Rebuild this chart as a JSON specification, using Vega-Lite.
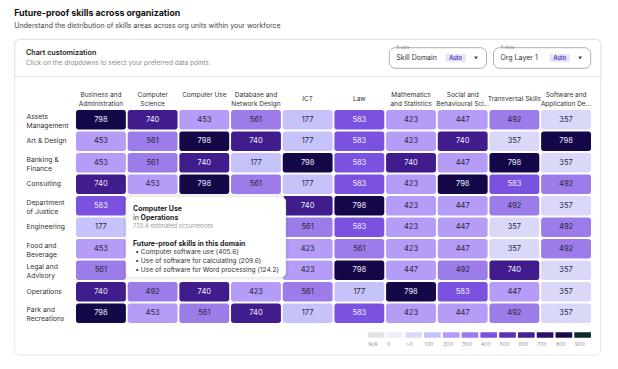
{
  "$schema": "https://vega.github.io/schema/vega-lite/v6.json",
  "width": 515,
  "height": 213,
  "autosize": {"type": "none"},
  "padding": {"left": 76, "top": 110, "right": 27, "bottom": 46},
  "background": "white",
  "config": {"font": "Inter", "view": {"stroke": null}},
  "title": {
    "text": "Future-proof skills across organization",
    "subtitle": "Understand the distribution of skills areas across org units within your workforce",
    "anchor": "start",
    "frame": "bounds",
    "fontSize": 8.8,
    "fontWeight": 700,
    "color": "#111111",
    "subtitleFontSize": 7,
    "subtitleColor": "#444444",
    "subtitlePadding": 4.5,
    "offset": 9.5
  },
  "layer": [
    {
      "data": {"values": [{"panel": "card"}]},
      "mark": {"type": "rect", "fill": "white", "stroke": "#e3e6e8", "strokeWidth": 1, "cornerRadius": 5},
      "encoding": {
        "x": {"field": "panel", "type": "nominal", "axis": null, "scale": {"domain": ["card"], "range": [-61.3, 524.7], "paddingInner": 0, "paddingOuter": 0}},
        "y": {"field": "panel", "type": "nominal", "axis": null, "scale": {"domain": ["card"], "range": [-70.7, 245], "paddingInner": 0, "paddingOuter": 0}}
      }
    },
    {
      "data": {"values": [{"panel": "header", "heading": "Chart customization", "hint": "Click on the dropdowns to select your preferred data points."}]},
      "encoding": {
        "x": {"field": "panel", "type": "nominal", "axis": null, "scale": {"domain": ["header"], "range": [-61.3, 524.7], "paddingInner": 0, "paddingOuter": 0}},
        "y": {"field": "panel", "type": "nominal", "axis": null, "scale": {"domain": ["header"], "range": [-70.7, -33.5], "paddingInner": 0, "paddingOuter": 0}}
      },
      "layer": [
        {"mark": {"type": "rect", "fill": null, "fillOpacity": 0, "stroke": "#e3e6e8", "strokeWidth": 1, "cornerRadiusTopLeft": 5, "cornerRadiusTopRight": 5}},
        {
          "mark": {"type": "text", "align": "left", "baseline": "middle", "dx": 11.3, "dy": 13.4, "fontSize": 7.2, "fontWeight": 600, "color": "#222222"},
          "encoding": {
            "x": {"field": "panel", "type": "nominal", "bandPosition": 0},
            "y": {"field": "panel", "type": "nominal", "bandPosition": 0},
            "text": {"field": "heading"}
          }
        },
        {
          "mark": {"type": "text", "align": "left", "baseline": "middle", "dx": 11.3, "dy": 23.4, "fontSize": 6.5, "color": "#8a8a8a"},
          "encoding": {
            "x": {"field": "panel", "type": "nominal", "bandPosition": 0},
            "y": {"field": "panel", "type": "nominal", "bandPosition": 0},
            "text": {"field": "hint"}
          }
        }
      ]
    },
    {
      "data": {"values": [
        {"panel": "controls", "axisName": "X-axis", "choice": "Skill Domain", "mode": "Auto"},
        {"panel": "controls", "axisName": "Y-Axis", "choice": "Org Layer 1", "mode": "Auto"}
      ]},
      "encoding": {
        "x": {"field": "axisName", "type": "nominal", "axis": null, "scale": {"domain": ["X-axis", "Y-Axis"], "range": [313.3, 514.7], "paddingInner": 0.067, "paddingOuter": 0}},
        "y": {"field": "panel", "type": "nominal", "axis": null, "scale": {"domain": ["controls"], "range": [-62.3, -41.7], "paddingInner": 0, "paddingOuter": 0}}
      },
      "layer": [
        {"mark": {"type": "rect", "fill": "white", "stroke": "#9a9a9a", "strokeWidth": 0.8, "cornerRadius": 6}},
        {
          "mark": {"type": "text", "align": "left", "baseline": "middle", "dx": 7, "fontSize": 7, "color": "#333333"},
          "encoding": {"x": {"field": "axisName", "type": "nominal", "bandPosition": 0}, "text": {"field": "choice"}}
        },
        {
          "mark": {"type": "point", "shape": "M-1,-0.4L1,-0.4L1,0.4L-1,0.4Z", "size": 400, "filled": true, "fill": "#e7e2fb", "opacity": 1, "xOffset": -31},
          "encoding": {"x": {"field": "axisName", "type": "nominal", "bandPosition": 1}}
        },
        {
          "mark": {"type": "text", "align": "center", "baseline": "middle", "dx": -31, "fontSize": 5.5, "fontWeight": 600, "color": "#4a32b0"},
          "encoding": {"x": {"field": "axisName", "type": "nominal", "bandPosition": 1}, "text": {"field": "mode"}}
        },
        {
          "mark": {"type": "point", "shape": "triangle-down", "size": 14, "filled": true, "fill": "#444444", "opacity": 1, "xOffset": -10.5},
          "encoding": {"x": {"field": "axisName", "type": "nominal", "bandPosition": 1}}
        },
        {
          "mark": {"type": "text", "align": "left", "baseline": "middle", "dx": 7, "dy": 0.6, "fontSize": 4.5, "color": "#888888"},
          "encoding": {"x": {"field": "axisName", "type": "nominal", "bandPosition": 0}, "y": {"field": "panel", "type": "nominal", "bandPosition": 0}, "text": {"field": "axisName"}}
        }
      ]
    },
    {
      "data": {"values": [
        {"unit": "Assets Management", "skill": "Business and Administration", "value": 798},
        {"unit": "Assets Management", "skill": "Computer Science", "value": 740},
        {"unit": "Assets Management", "skill": "Computer Use", "value": 453},
        {"unit": "Assets Management", "skill": "Database and Network Design", "value": 561},
        {"unit": "Assets Management", "skill": "ICT", "value": 177},
        {"unit": "Assets Management", "skill": "Law", "value": 583},
        {"unit": "Assets Management", "skill": "Mathematics and Statistics", "value": 423},
        {"unit": "Assets Management", "skill": "Social and Behavioural Sciences", "value": 447},
        {"unit": "Assets Management", "skill": "Transversal Skills", "value": 492},
        {"unit": "Assets Management", "skill": "Software and Application Development", "value": 357},
        {"unit": "Art & Design", "skill": "Business and Administration", "value": 453},
        {"unit": "Art & Design", "skill": "Computer Science", "value": 561},
        {"unit": "Art & Design", "skill": "Computer Use", "value": 798},
        {"unit": "Art & Design", "skill": "Database and Network Design", "value": 740},
        {"unit": "Art & Design", "skill": "ICT", "value": 177},
        {"unit": "Art & Design", "skill": "Law", "value": 583},
        {"unit": "Art & Design", "skill": "Mathematics and Statistics", "value": 423},
        {"unit": "Art & Design", "skill": "Social and Behavioural Sciences", "value": 740},
        {"unit": "Art & Design", "skill": "Transversal Skills", "value": 357},
        {"unit": "Art & Design", "skill": "Software and Application Development", "value": 798},
        {"unit": "Banking & Finance", "skill": "Business and Administration", "value": 453},
        {"unit": "Banking & Finance", "skill": "Computer Science", "value": 561},
        {"unit": "Banking & Finance", "skill": "Computer Use", "value": 740},
        {"unit": "Banking & Finance", "skill": "Database and Network Design", "value": 177},
        {"unit": "Banking & Finance", "skill": "ICT", "value": 798},
        {"unit": "Banking & Finance", "skill": "Law", "value": 583},
        {"unit": "Banking & Finance", "skill": "Mathematics and Statistics", "value": 740},
        {"unit": "Banking & Finance", "skill": "Social and Behavioural Sciences", "value": 447},
        {"unit": "Banking & Finance", "skill": "Transversal Skills", "value": 798},
        {"unit": "Banking & Finance", "skill": "Software and Application Development", "value": 357},
        {"unit": "Consulting", "skill": "Business and Administration", "value": 740},
        {"unit": "Consulting", "skill": "Computer Science", "value": 453},
        {"unit": "Consulting", "skill": "Computer Use", "value": 798},
        {"unit": "Consulting", "skill": "Database and Network Design", "value": 561},
        {"unit": "Consulting", "skill": "ICT", "value": 177},
        {"unit": "Consulting", "skill": "Law", "value": 583},
        {"unit": "Consulting", "skill": "Mathematics and Statistics", "value": 423},
        {"unit": "Consulting", "skill": "Social and Behavioural Sciences", "value": 798},
        {"unit": "Consulting", "skill": "Transversal Skills", "value": 583},
        {"unit": "Consulting", "skill": "Software and Application Development", "value": 492},
        {"unit": "Department of Justice", "skill": "Business and Administration", "value": 583},
        {"unit": "Department of Justice", "skill": "ICT", "value": 740},
        {"unit": "Department of Justice", "skill": "Law", "value": 798},
        {"unit": "Department of Justice", "skill": "Mathematics and Statistics", "value": 423},
        {"unit": "Department of Justice", "skill": "Social and Behavioural Sciences", "value": 447},
        {"unit": "Department of Justice", "skill": "Transversal Skills", "value": 492},
        {"unit": "Department of Justice", "skill": "Software and Application Development", "value": 357},
        {"unit": "Engineering", "skill": "Business and Administration", "value": 177},
        {"unit": "Engineering", "skill": "ICT", "value": 561},
        {"unit": "Engineering", "skill": "Law", "value": 583},
        {"unit": "Engineering", "skill": "Mathematics and Statistics", "value": 423},
        {"unit": "Engineering", "skill": "Social and Behavioural Sciences", "value": 447},
        {"unit": "Engineering", "skill": "Transversal Skills", "value": 357},
        {"unit": "Engineering", "skill": "Software and Application Development", "value": 492},
        {"unit": "Food and Beverage", "skill": "Business and Administration", "value": 453},
        {"unit": "Food and Beverage", "skill": "ICT", "value": 423},
        {"unit": "Food and Beverage", "skill": "Law", "value": 561},
        {"unit": "Food and Beverage", "skill": "Mathematics and Statistics", "value": 423},
        {"unit": "Food and Beverage", "skill": "Social and Behavioural Sciences", "value": 447},
        {"unit": "Food and Beverage", "skill": "Transversal Skills", "value": 357},
        {"unit": "Food and Beverage", "skill": "Software and Application Development", "value": 492},
        {"unit": "Legal and Advisory", "skill": "Business and Administration", "value": 561},
        {"unit": "Legal and Advisory", "skill": "ICT", "value": 423},
        {"unit": "Legal and Advisory", "skill": "Law", "value": 798},
        {"unit": "Legal and Advisory", "skill": "Mathematics and Statistics", "value": 447},
        {"unit": "Legal and Advisory", "skill": "Social and Behavioural Sciences", "value": 492},
        {"unit": "Legal and Advisory", "skill": "Transversal Skills", "value": 740},
        {"unit": "Legal and Advisory", "skill": "Software and Application Development", "value": 357},
        {"unit": "Operations", "skill": "Business and Administration", "value": 740},
        {"unit": "Operations", "skill": "Computer Science", "value": 492},
        {"unit": "Operations", "skill": "Computer Use", "value": 740},
        {"unit": "Operations", "skill": "Database and Network Design", "value": 423},
        {"unit": "Operations", "skill": "ICT", "value": 561},
        {"unit": "Operations", "skill": "Law", "value": 177},
        {"unit": "Operations", "skill": "Mathematics and Statistics", "value": 798},
        {"unit": "Operations", "skill": "Social and Behavioural Sciences", "value": 583},
        {"unit": "Operations", "skill": "Transversal Skills", "value": 447},
        {"unit": "Operations", "skill": "Software and Application Development", "value": 357},
        {"unit": "Park and Recreations", "skill": "Business and Administration", "value": 798},
        {"unit": "Park and Recreations", "skill": "Computer Science", "value": 453},
        {"unit": "Park and Recreations", "skill": "Computer Use", "value": 561},
        {"unit": "Park and Recreations", "skill": "Database and Network Design", "value": 740},
        {"unit": "Park and Recreations", "skill": "ICT", "value": 177},
        {"unit": "Park and Recreations", "skill": "Law", "value": 583},
        {"unit": "Park and Recreations", "skill": "Mathematics and Statistics", "value": 423},
        {"unit": "Park and Recreations", "skill": "Social and Behavioural Sciences", "value": 447},
        {"unit": "Park and Recreations", "skill": "Transversal Skills", "value": 492},
        {"unit": "Park and Recreations", "skill": "Software and Application Development", "value": 357}
      ]},
      "encoding": {
        "x": {
          "field": "skill", "type": "nominal",
          "sort": ["Business and Administration", "Computer Science", "Computer Use", "Database and Network Design", "ICT", "Law", "Mathematics and Statistics", "Social and Behavioural Sciences", "Transversal Skills", "Software and Application Development"],
          "scale": {"paddingInner": 0.035, "paddingOuter": 0},
          "axis": {
            "orient": "top", "title": null, "domain": false, "ticks": false, "tickSize": 0,
            "labelAngle": 0, "labelAlign": "center",
            "labelBaseline": {"condition": {"test": "indexof(['ICT','Law','Transversal Skills'], datum.value) >= 0", "value": "middle"}, "value": "line-bottom"},
            "labelPadding": 11.3,
            "labelFontSize": 6.5, "labelColor": "#333333", "labelLineHeight": 8.7, "labelLimit": 0,
            "labelExpr": "{'Business and Administration':['Business and','Administration'],'Computer Science':['Computer','Science'],'Database and Network Design':['Database and','Network Design'],'Mathematics and Statistics':['Mathematics','and Statistics'],'Social and Behavioural Sciences':['Social and','Behavioural Sci...'],'Software and Application Development':['Software and','Application De...']}[datum.label] || datum.label"
          }
        },
        "y": {
          "field": "unit", "type": "nominal",
          "sort": ["Assets Management", "Art & Design", "Banking & Finance", "Consulting", "Department of Justice", "Engineering", "Food and Beverage", "Legal and Advisory", "Operations", "Park and Recreations"],
          "scale": {"paddingInner": 0.09, "paddingOuter": 0},
          "axis": {
            "title": null, "domain": false, "ticks": false, "tickSize": 0,
            "labelAlign": "left",
            "labelBaseline": {"condition": {"test": "indexof(['Art & Design','Consulting','Engineering','Operations'], datum.value) >= 0", "value": "middle"}, "value": "bottom"},
            "labelPadding": 50,
            "labelFontSize": 6.8, "labelColor": "#333333", "labelLineHeight": 9,
            "labelExpr": "{'Assets Management':['Assets','Management'],'Banking & Finance':['Banking &','Finance'],'Department of Justice':['Department','of Justice'],'Food and Beverage':['Food and','Beverage'],'Legal and Advisory':['Legal and','Advisory'],'Park and Recreations':['Park and','Recreations']}[datum.label] || datum.label"
          }
        }
      },
      "layer": [
        {
          "mark": {"type": "rect", "cornerRadius": 2.5},
          "encoding": {
            "color": {
              "field": "value", "type": "quantitative", "legend": null,
              "scale": {"type": "threshold", "domain": [200, 400, 480, 570, 700, 780], "range": ["#c5c3fa", "#d9d8f9", "#b49cf7", "#9c7ce9", "#7b52df", "#401c8c", "#150849"]}
            }
          }
        },
        {
          "mark": {"type": "text", "fontSize": 7.5, "baseline": "middle"},
          "encoding": {
            "text": {"field": "value", "type": "quantitative"},
            "color": {"condition": {"test": "datum.value > 570", "value": "#f1eeff"}, "value": "#2b2640"}
          }
        }
      ]
    },
    {
      "data": {"values": [
        {"panel": "legend", "bin": "N/A"}, {"panel": "legend", "bin": "0"}, {"panel": "legend", "bin": ">0"},
        {"panel": "legend", "bin": "100"}, {"panel": "legend", "bin": "200"}, {"panel": "legend", "bin": "300"},
        {"panel": "legend", "bin": "400"}, {"panel": "legend", "bin": "500"}, {"panel": "legend", "bin": "600"},
        {"panel": "legend", "bin": "700"}, {"panel": "legend", "bin": "800"}, {"panel": "legend", "bin": "900"}
      ]},
      "encoding": {
        "x": {"field": "bin", "type": "nominal", "sort": null, "axis": null, "scale": {"range": [291.7, 515], "paddingInner": 0.11, "paddingOuter": 0}},
        "y": {"field": "panel", "type": "nominal", "axis": null, "scale": {"domain": ["legend"], "range": [222.3, 227.7], "paddingInner": 0, "paddingOuter": 0}}
      },
      "layer": [
        {
          "mark": {"type": "rect", "cornerRadius": 0.5},
          "encoding": {
            "color": {
              "field": "bin", "type": "nominal", "legend": null,
              "scale": {"domain": ["N/A", "0", ">0", "100", "200", "300", "400", "500", "600", "700", "800", "900"], "range": ["#e3e3e3", "#efeefa", "#dcdaf9", "#c6c3fa", "#b49bf6", "#9d7cea", "#7b53e0", "#5b34b5", "#46218f", "#2e0e6c", "#160a4a", "#0c2b2c"]}
            }
          }
        },
        {
          "mark": {"type": "text", "align": "left", "baseline": "middle", "dx": 0.5, "dy": 6.3, "fontSize": 5.3, "color": "#9a9a9a"},
          "encoding": {
            "x": {"field": "bin", "type": "nominal", "sort": null, "bandPosition": 0},
            "y": {"field": "panel", "type": "nominal", "bandPosition": 1},
            "text": {"field": "bin"}
          }
        }
      ]
    },
    {
      "data": {"values": [
        {"panel": "tooltip", "line": "skill", "kind": "title", "text": "Computer Use"},
        {"panel": "tooltip", "line": "unit", "kind": "prefix", "text": "in"},
        {"panel": "tooltip", "line": "unit", "kind": "unit", "text": "Operations"},
        {"panel": "tooltip", "line": "count", "kind": "note", "text": "733.4 estimated occurrences"},
        {"panel": "tooltip", "line": "heading", "kind": "title", "text": "Future-proof skills in this domain"},
        {"panel": "tooltip", "line": "item1", "kind": "item", "text": "• Computer software use (405.6)"},
        {"panel": "tooltip", "line": "item2", "kind": "item", "text": "• Use of software for calculating (209.6)"},
        {"panel": "tooltip", "line": "item3", "kind": "item", "text": "• Use of software for Word processing (124.2)"}
      ]},
      "encoding": {
        "x": {"field": "panel", "type": "nominal", "axis": null, "scale": {"domain": ["tooltip"], "range": [50, 209.7], "paddingInner": 0, "paddingOuter": 0}}
      },
      "layer": [
        {
          "transform": [{"filter": "datum.line == 'skill'"}],
          "mark": {"type": "rect", "fill": "white", "stroke": "#000000", "strokeOpacity": 0.06, "strokeWidth": 5, "cornerRadius": 5},
          "encoding": {"y": {"field": "panel", "type": "nominal", "axis": null, "scale": {"domain": ["tooltip"], "range": [86.7, 167.3], "paddingInner": 0, "paddingOuter": 0}}}
        },
        {
          "transform": [{"filter": "datum.line == 'skill'"}],
          "mark": {"type": "rect", "fill": "white", "stroke": "#e6e6e6", "strokeWidth": 0.6, "cornerRadius": 5},
          "encoding": {"y": {"field": "panel", "type": "nominal", "axis": null, "scale": {"domain": ["tooltip"], "range": [86.7, 167.3], "paddingInner": 0, "paddingOuter": 0}}}
        },
        {
          "transform": [{"filter": "datum.line == 'skill'"}],
          "mark": {"type": "point", "shape": "triangle-down", "size": 40, "filled": true, "fill": "white", "opacity": 1, "yOffset": 1.8},
          "encoding": {"y": {"field": "panel", "type": "nominal", "bandPosition": 1, "axis": null, "scale": {"domain": ["tooltip"], "range": [86.7, 167.3], "paddingInner": 0, "paddingOuter": 0}}}
        },
        {
          "transform": [{"filter": "datum.kind == 'title'"}],
          "mark": {"type": "text", "align": "left", "baseline": "middle", "dx": 7, "fontSize": 7, "fontWeight": 700, "color": "#1c1c1c"},
          "encoding": {
            "x": {"field": "panel", "type": "nominal", "bandPosition": 0},
            "y": {"field": "line", "type": "ordinal", "axis": null, "scale": {"type": "point", "domain": ["skill", "unit", "count", "gap", "heading", "item1", "item2", "item3"], "range": [99, 159.7], "padding": 0}},
            "text": {"field": "text"}
          }
        },
        {
          "transform": [{"filter": "datum.kind == 'prefix'"}],
          "mark": {"type": "text", "align": "left", "baseline": "middle", "dx": 7, "fontSize": 7, "color": "#333333"},
          "encoding": {
            "x": {"field": "panel", "type": "nominal", "bandPosition": 0},
            "y": {"field": "line", "type": "ordinal", "axis": null, "scale": {"type": "point", "domain": ["skill", "unit", "count", "gap", "heading", "item1", "item2", "item3"], "range": [99, 159.7], "padding": 0}},
            "text": {"field": "text"}
          }
        },
        {
          "transform": [{"filter": "datum.kind == 'unit'"}],
          "mark": {"type": "text", "align": "left", "baseline": "middle", "dx": 14.5, "fontSize": 7, "fontWeight": 700, "color": "#1c1c1c"},
          "encoding": {
            "x": {"field": "panel", "type": "nominal", "bandPosition": 0},
            "y": {"field": "line", "type": "ordinal", "axis": null, "scale": {"type": "point", "domain": ["skill", "unit", "count", "gap", "heading", "item1", "item2", "item3"], "range": [99, 159.7], "padding": 0}},
            "text": {"field": "text"}
          }
        },
        {
          "transform": [{"filter": "datum.kind == 'note'"}],
          "mark": {"type": "text", "align": "left", "baseline": "middle", "dx": 7, "fontSize": 5.8, "color": "#9a9a9a"},
          "encoding": {
            "x": {"field": "panel", "type": "nominal", "bandPosition": 0},
            "y": {"field": "line", "type": "ordinal", "axis": null, "scale": {"type": "point", "domain": ["skill", "unit", "count", "gap", "heading", "item1", "item2", "item3"], "range": [99, 159.7], "padding": 0}},
            "text": {"field": "text"}
          }
        },
        {
          "transform": [{"filter": "datum.kind == 'item'"}],
          "mark": {"type": "text", "align": "left", "baseline": "middle", "dx": 9.3, "fontSize": 6.6, "color": "#333333"},
          "encoding": {
            "x": {"field": "panel", "type": "nominal", "bandPosition": 0},
            "y": {"field": "line", "type": "ordinal", "axis": null, "scale": {"type": "point", "domain": ["skill", "unit", "count", "gap", "heading", "item1", "item2", "item3"], "range": [99, 159.7], "padding": 0}},
            "text": {"field": "text"}
          }
        }
      ],
      "resolve": {"scale": {"y": "independent"}}
    }
  ],
  "resolve": {"scale": {"x": "independent", "y": "independent", "color": "independent"}}
}
